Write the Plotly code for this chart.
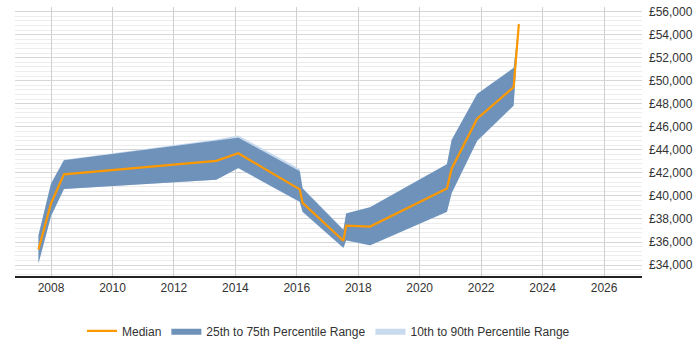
import plotly.graph_objects as go

dates = ["2007-08-05", "2008-01-01", "2008-06-03", "2013-05-18", "2014-02-05",
         "2016-02-05", "2016-03-10", "2017-07-08", "2017-08-10", "2018-05-22",
         "2020-11-20", "2021-01-15", "2021-11-14", "2023-01-22", "2023-03-25"]
p10 = [34100, 38200, 40600, 41400, 42400, 39450, 38600, 35450, 36100, 35700, 38600, 40200, 44750, 47800, 54850]
p25 = [34150, 38250, 40600, 41400, 42420, 39500, 38620, 35500, 36150, 35720, 38620, 40250, 44780, 47850, 54880]
p50 = [35350, 39350, 41880, 43040, 43700, 40570, 39400, 36110, 37420, 37340, 40650, 42360, 46710, 49450, 54920]
p75 = [36580, 41060, 43100, 44750, 45050, 42150, 40650, 37050, 38480, 39020, 42750, 44860, 48850, 51100, 54950]
p90 = [36600, 41100, 43150, 44900, 45250, 42350, 40700, 37100, 38500, 39050, 42780, 44900, 48880, 51150, 55200]

fig = go.Figure()

fig.add_trace(go.Scatter(
    x=dates + dates[::-1], y=p90 + p10[::-1], fill="toself",
    fillcolor="rgb(200,218,238)", line=dict(width=0), mode="lines",
    name="10th to 90th Percentile Range", hoverinfo="skip", legendrank=3))
fig.add_trace(go.Scatter(
    x=dates + dates[::-1], y=p75 + p25[::-1], fill="toself",
    fillcolor="rgb(110,146,186)", line=dict(width=0), mode="lines",
    name="25th to 75th Percentile Range", hoverinfo="skip", legendrank=2))
fig.add_trace(go.Scatter(
    x=dates, y=p50, mode="lines", line=dict(color="#ff9900", width=2.2),
    name="Median", legendrank=1))

fig.update_layout(
    width=700, height=350,
    margin=dict(l=15, r=58, t=5, b=58),
    plot_bgcolor="white", paper_bgcolor="white",
    font=dict(family="Liberation Sans, Arial, sans-serif", size=12, color="#333333"),
    showlegend=True,
    legend=dict(orientation="h", x=0.5, xanchor="center", y=-0.15, yanchor="top",
                font=dict(size=12, color="#333333"), traceorder="normal"),
    xaxis=dict(type="date", range=["2006-10-30", "2027-03-28"],
               tick0="2008-01-01", dtick="M24", tickformat="%Y",
               showgrid=True, gridcolor="#cfcfcf", gridwidth=1,
               showline=True, linecolor="#222222", linewidth=1.5,
               ticks="", zeroline=False),
    yaxis=dict(side="right", range=[33050, 56400], dtick=2000, tick0=34000,
               tickprefix="£", tickformat=",d", ticklabelstandoff=6,
               showgrid=True, gridcolor="#d6d6d6", gridwidth=1,
               minor=dict(dtick=400, tick0=34000, showgrid=True, gridcolor="#ececec", gridwidth=1),
               showline=False, zeroline=False, ticks=""),
)

fig.write_html("out.html")
